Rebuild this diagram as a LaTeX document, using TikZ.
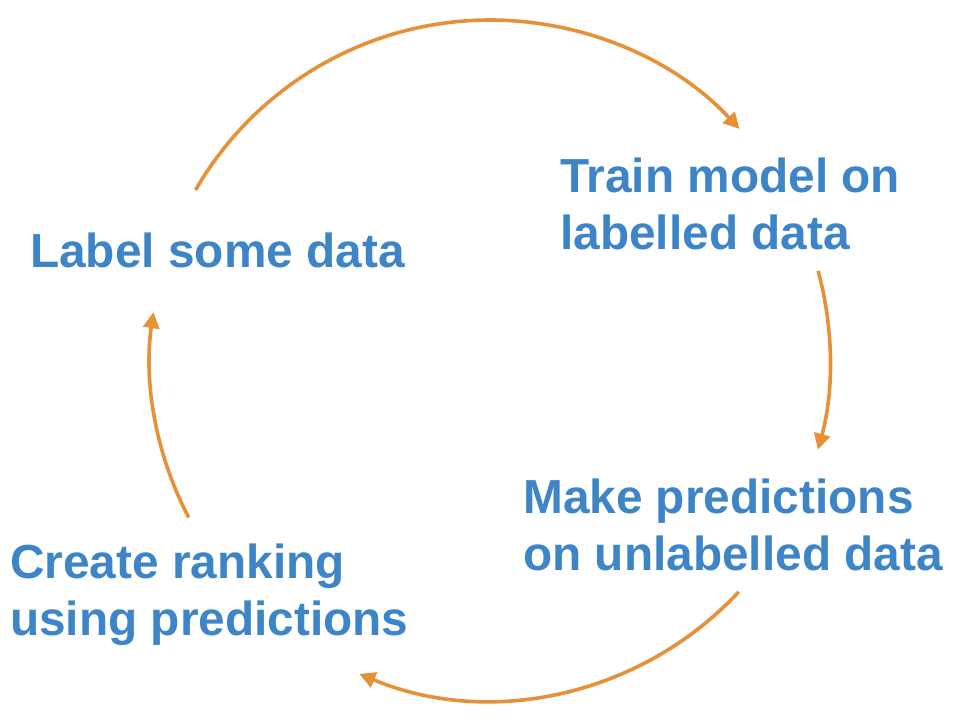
\documentclass[tikz,border=0pt]{standalone}
\usepackage{fontspec}
\setmainfont{Liberation Sans}
\usetikzlibrary{arrows.meta}
\definecolor{txtblue}{HTML}{3D85C6}
\definecolor{arcorange}{HTML}{E69138}
\begin{document}
\begin{tikzpicture}[x=1pt,y=-1pt,
  lbl/.style={anchor=base west,inner sep=0pt,align=left,text=txtblue,
    font=\fontsize{47.8}{57}\selectfont\bfseries},
  cyc/.style={draw=arcorange,line width=3.6pt,-{Triangle[length=16pt,width=16pt]}}]
\useasboundingbox (0,0) rectangle (960,720);
\node[lbl] (label) at (30,267) {Label some data};
\node[lbl] (train) at (560,249) {Train model on\\labelled data};
\node[lbl] (make) at (523,570) {Make predictions\\on unlabelled data};
\node[lbl] (create) at (10,635) {Create ranking\\using predictions};
\coordinate (c) at (490,360);
\coordinate (s1) at ([shift={(-150:340)}]c);
\coordinate (s2) at ([shift={(-15.2:340)}]c);
\coordinate (s3) at ([shift={(43:340)}]c);
\coordinate (s4) at ([shift={(-207.6:340)}]c);
\draw[cyc] (s1) arc[start angle=-150,end angle=-42.8,radius=340];
\draw[cyc] (s2) arc[start angle=-15.2,end angle=15.3,radius=340];
\draw[cyc] (s3) arc[start angle=43,end angle=112.6,radius=340];
\draw[cyc] (s4) arc[start angle=-207.6,end angle=-171.9,radius=340];
\end{tikzpicture}
\end{document}
